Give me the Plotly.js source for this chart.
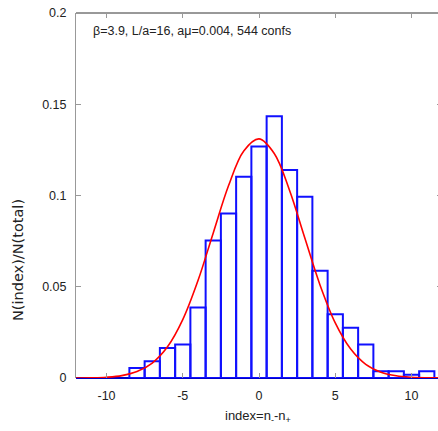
<!DOCTYPE html>
<html>
<head>
<meta charset="utf-8">
<script src="https://cdn.plot.ly/plotly-3.0.1.min.js"></script>
<style>
html, body { margin: 0; padding: 0; overflow: hidden; background: #fff; }
#chart { width: 442px; height: 431px; }
</style>
</head>
<body>
<div id="chart"></div>
<script>
// Histogram: index = n- - n+, fraction of configurations
const binCenters = [-8, -7, -6, -5, -4, -3, -2, -1, 0, 1, 2, 3, 4, 5, 6, 7, 8, 9, 10, 11];
const binFractions = [0.0055, 0.0092, 0.0165, 0.0184, 0.0386, 0.0754, 0.0901, 0.1103, 0.1268, 0.1434,
                      0.1140, 0.0993, 0.0588, 0.0349, 0.0276, 0.0184, 0.0037, 0.0037, 0.0018, 0.0037];

// Gaussian curve
const curveX = [-12, -11, -10, -9, -8, -7, -6, -5, -4, -3, -2, -1, 0, 1, 2, 3, 4, 5, 6, 7, 8, 9, 10, 11, 12];
const curveY = [0.00003, 0.00013, 0.00044, 0.0013, 0.0035, 0.0082, 0.0171, 0.0320, 0.0534, 0.0795, 0.1053, 0.1244,
                0.1310, 0.1230, 0.1029, 0.0768, 0.0510, 0.0302, 0.0160, 0.0075, 0.0032, 0.0012, 0.0004, 0.00012, 0.00003];

const xTickVals = [-10, -5, 0, 5, 10];
const xTickText = ['-10', '-5', '0', '5', '10'];
const yTickVals = [0, 0.05, 0.1, 0.15, 0.2];
const yTickText = ['0', '0.05', '0.1', '0.15', '0.2'];

const titleText = 'β=3.9, L/a=16, aμ=0.004, 544 confs';
const xTitle = 'index=n<sub>-</sub>-n<sub>+</sub>';
const yTitle = 'N(index)/N(total)';

const sans = 'Liberation Sans, Arial, sans-serif';

const L = 76, T = 13, W = 442, H = 431, B = 53, R = 0;
const pw = W - L - R, ph = H - T - B;
const px = v => (v - L) / pw;
const py = v => (H - B - v) / ph;

const traces = [
  {
    type: 'bar',
    x: binCenters,
    y: binFractions,
    width: 1,
    marker: { color: 'rgba(255,255,255,0)', line: { color: '#1010ff', width: 2 } },
    hoverinfo: 'skip'
  },
  {
    type: 'scatter',
    mode: 'lines',
    x: curveX,
    y: curveY,
    line: { color: '#ff0000', width: 1.6, shape: 'spline', smoothing: 1 },
    hoverinfo: 'skip'
  }
];

const layout = {
  width: W, height: H,
  margin: { l: L, r: R, t: T, b: B, pad: 0 },
  paper_bgcolor: '#fff', plot_bgcolor: '#fff',
  showlegend: false,
  bargap: 0,
  font: { family: sans, size: 12, color: '#222' },
  xaxis: {
    range: [-12, 12],
    tickvals: xTickVals, ticktext: xTickText,
    ticks: 'inside', ticklen: 5, tickcolor: '#999', tickwidth: 1,
    mirror: 'ticks', showline: false, showgrid: false, zeroline: false,
    ticklabelstandoff: 8,
    tickfont: { family: sans, size: 12.5, color: '#222' }
  },
  yaxis: {
    range: [0, 0.2],
    tickvals: yTickVals, ticktext: yTickText,
    ticks: 'inside', ticklen: 5, tickcolor: '#999', tickwidth: 1,
    mirror: 'ticks', showline: true, linecolor: '#999', linewidth: 1,
    showgrid: false,
    zeroline: true, zerolinecolor: '#0000c8', zerolinewidth: 2,
    ticklabelstandoff: 6,
    tickfont: { family: sans, size: 12.5, color: '#222' }
  },
  shapes: [
    { type: 'line', xref: 'paper', yref: 'paper', x0: 0, x1: 1, y0: 1, y1: 1,
      line: { color: '#333', width: 1 }, layer: 'below' }
  ],
  annotations: [
    { text: titleText, xref: 'paper', yref: 'paper', x: px(91), y: py(31),
      xanchor: 'left', yanchor: 'middle', showarrow: false,
      font: { family: sans, size: 12.5, color: '#222' } },
    { text: xTitle, xref: 'paper', yref: 'paper', x: px(257.5), y: py(416),
      xanchor: 'center', yanchor: 'middle', showarrow: false,
      font: { family: sans, size: 13, color: '#222' } },
    { text: yTitle, xref: 'paper', yref: 'paper', x: px(18), y: py(260),
      xanchor: 'center', yanchor: 'middle', showarrow: false, textangle: -90,
      font: { family: 'DejaVu Sans, sans-serif', size: 14.5, color: '#222' } }
  ]
};

Plotly.newPlot('chart', traces, layout, { displayModeBar: false, staticPlot: true });
</script>
</body>
</html>
